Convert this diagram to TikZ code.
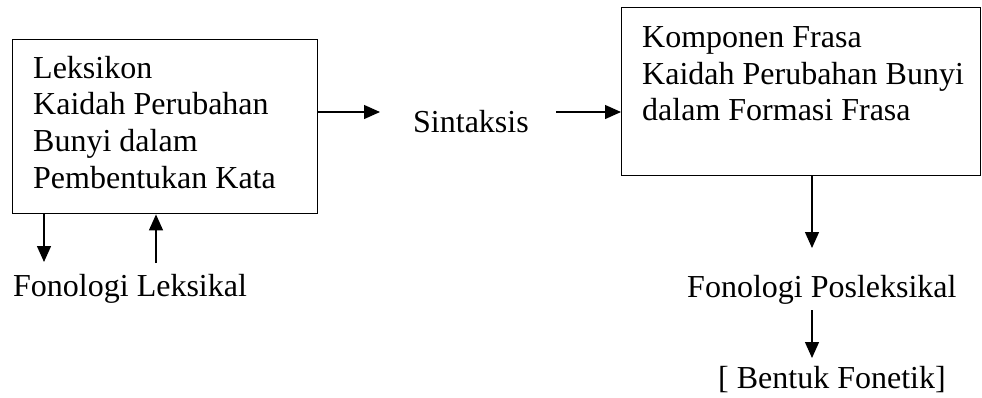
\documentclass[tikz,border=0pt]{standalone}
\usepackage{fontspec}
\setmainfont{Liberation Serif}
\usetikzlibrary{arrows.meta}
\begin{document}
\begin{tikzpicture}[x=1pt,y=-1pt,
  box/.style={draw, line width=1.4pt, inner sep=0pt, anchor=north west},
  txt/.style={anchor=base west, inner sep=0pt, font=\fontsize{32}{37}\selectfont},
  arr/.style={line width=1.3pt, -{Triangle[length=16pt,width=14pt]}}]
\useasboundingbox (0,0) rectangle (982,397);

% component boxes
\node[box, minimum width=305pt, minimum height=174pt] (lexbox) at (12,39) {};
\node[box, minimum width=359pt, minimum height=168pt] (phrbox) at (621,7) {};

% lexicon box text
\node[txt] (l1) at (33,78.3) {Leksikon};
\node[txt] (l2) at (33,114.8) {Kaidah Perubahan};
\node[txt] (l3) at (33,151.5) {Bunyi dalam};
\node[txt] (l4) at (33,188.2) {Pembentukan Kata};

% phrase box text
\node[txt] (p1) at (642,47.5) {Komponen Frasa};
\node[txt] (p2) at (642,84) {Kaidah Perubahan Bunyi};
\node[txt] (p3) at (642,120.5) {dalam Formasi Frasa};

% free labels
\node[txt] (syn) at (413,132) {Sintaksis};
\node[txt] (fonlex) at (13,296) {Fonologi Leksikal};
\node[txt] (fonpost) at (687,297) {Fonologi Posleksikal};
\node[txt] (fonet) at (718,388) {[ Bentuk Fonetik]};

% arrow end points
\coordinate (synin) at (380,112);
\coordinate (synout) at (556,112);
\coordinate (lexdown) at (44,262);
\coordinate (lexup) at (156,263);
\coordinate (postin) at (812,248);
\coordinate (postout) at (812,310);
\coordinate (fonin) at (812,358);

% connectors
\draw[arr] (lexbox.east |- synin) -- (synin);
\draw[arr] (synout) -- (phrbox.west |- synout);
\draw[arr] (lexbox.south -| lexdown) -- (lexdown);
\draw[arr] (lexup) -- (lexbox.south -| lexup);
\draw[arr] (phrbox.south -| postin) -- (postin);
\draw[arr] (postout) -- (fonin);
\end{tikzpicture}
\end{document}
